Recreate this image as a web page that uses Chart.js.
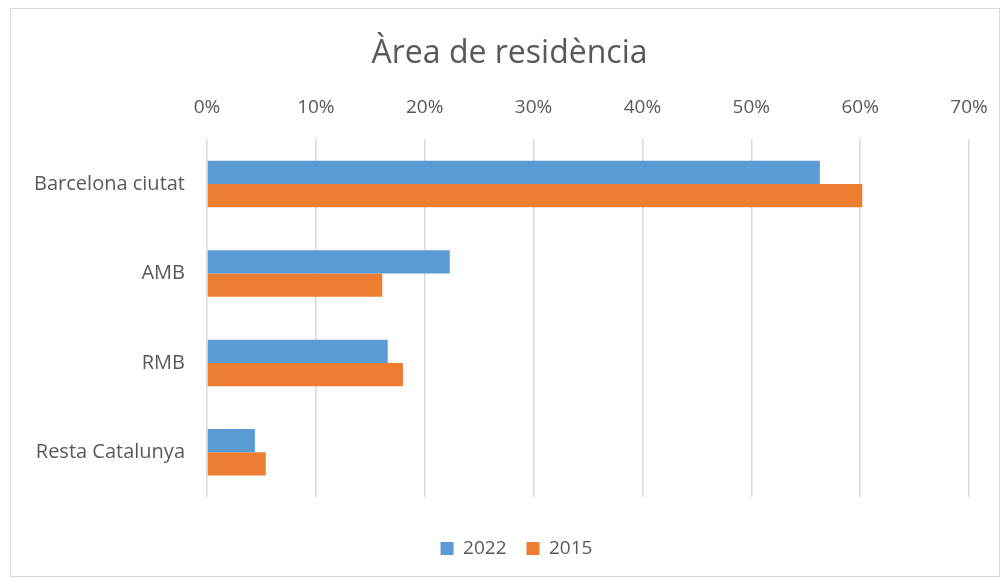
<!DOCTYPE html>
<html>
<head>
<meta charset="utf-8">
<script src="https://cdn.jsdelivr.net/npm/chart.js@4"></script>
<style>
  html, body { margin: 0; padding: 0; background: #fff; }
  #wrap { position: relative; width: 1003px; height: 579px; }
  #frame { position: absolute; left: 10px; top: 8px; width: 988px; height: 567px; border: 1px solid #D9D9D9; pointer-events: none; }
</style>
</head>
<body>
<div id="wrap">
  <canvas id="chart" width="1003" height="579"></canvas>
  <div id="frame"></div>
</div>
<script>
// Data
const categories = ['Barcelona ciutat', 'AMB', 'RMB', 'Resta Catalunya'];
const values2022 = [56.3, 22.3, 16.6, 4.4];
const values2015 = [60.2, 16.1, 18.0, 5.4];
const xTicks = [0, 10, 20, 30, 40, 50, 60, 70];

const textColor = '#595959';
const fontFamily = "'Open Sans', sans-serif";

// shift title and legend so they centre on the frame, like the original
const centreBlocks = {
  id: 'centreBlocks',
  afterLayout(chart) {
    if (chart.titleBlock) chart.titleBlock.left = 50;
    if (chart.legend) {
      chart.legend.left = 64;
      chart.legend.top += 22;
      chart.legend.bottom += 22;
    }
  }
};

new Chart(document.getElementById('chart'), {
  type: 'bar',
  data: {
    labels: categories,
    datasets: [{
      label: '2022',
      data: values2022,
      backgroundColor: '#5B9BD5',
      categoryPercentage: 0.52,
      barPercentage: 1.0,
    }, {
      label: '2015',
      data: values2015,
      backgroundColor: '#ED7D31',
      categoryPercentage: 0.52,
      barPercentage: 1.0,
    }]
  },
  plugins: [centreBlocks],
  options: {
    indexAxis: 'y',
    responsive: false,
    animation: false,
    layout: { padding: { left: 0, right: 34, top: 0, bottom: 33 } },
    plugins: {
      title: {
        display: true,
        text: 'Àrea de residència',
        color: textColor,
        font: { family: fontFamily, size: 32, weight: 'normal' },
        padding: { top: 35, bottom: 0 }
      },
      legend: {
        position: 'bottom',
        labels: {
          color: textColor,
          font: { family: fontFamily, size: 19 },
          boxWidth: 13,
          boxHeight: 13,
          padding: 20
        }
      },
      tooltip: { enabled: false }
    },
    scales: {
      x: {
        position: 'top',
        min: 0,
        max: 70,
        afterBuildTicks: s => { s.ticks = xTicks.map(v => ({ value: v })); },
        afterFit: s => { s.height = 66; s.paddingLeft = 0; s.paddingRight = 0; },
        ticks: {
          color: textColor,
          font: { family: fontFamily, size: 19 },
          padding: 20,
          callback: v => v + '%'
        },
        grid: { color: '#D9D9D9', lineWidth: 1.5, drawTicks: false },
        border: { display: false }
      },
      y: {
        afterFit: s => { s.width = 207; },
        ticks: {
          color: textColor,
          font: { family: fontFamily, size: 20 },
          padding: 14
        },
        grid: { display: false },
        border: { display: false }
      }
    }
  }
});
</script>
</body>
</html>
